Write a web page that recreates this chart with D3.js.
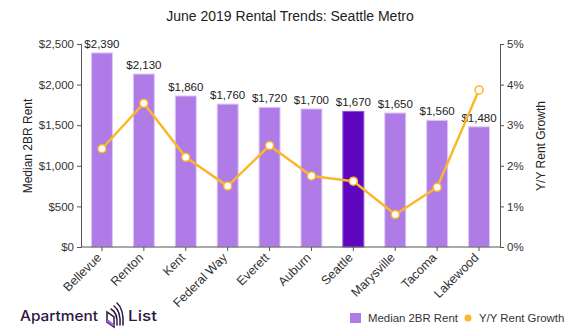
<!DOCTYPE html>
<html><head><meta charset="utf-8">
<script src="https://cdn.jsdelivr.net/npm/d3@7"></script>
<style>body{margin:0;background:#fff}svg{display:block;font-family:"Liberation Sans",Arial,sans-serif}</style>
</head><body><svg id="c" width="575" height="334"></svg>
<script>
const cities = ["Bellevue","Renton","Kent","Federal Way","Everett","Auburn","Seattle","Marysville","Tacoma","Lakewood"];
const rent = [2390,2130,1860,1760,1720,1700,1670,1650,1560,1480];
const growth = [2.42,3.54,2.21,1.50,2.50,1.75,1.62,0.80,1.47,3.87];
const rentTicks = [0,500,1000,1500,2000,2500];
const growthTicks = [0,1,2,3,4,5];
const highlight = "Seattle";

const svg = d3.select("#c");
const L = 81, R = 500, T = 44, B = 247;
const x = d3.scaleBand().domain(cities).range([L, R]).paddingInner(0.5).paddingOuter(0.25);
const y = d3.scaleLinear().domain([0, 2500]).range([B, T]);
const y2 = d3.scaleLinear().domain([0, 5]).range([B, T]);

svg.append("text").attr("x", 290).attr("y", 21).attr("text-anchor", "middle")
  .attr("font-size", 14).attr("fill", "#222").text("June 2019 Rental Trends: Seattle Metro");

// bars
svg.selectAll("rect.bar").data(cities).join("rect").attr("class", "bar")
  .attr("x", d => x(d)).attr("width", x.bandwidth())
  .attr("y", (d, i) => y(rent[i])).attr("height", (d, i) => B - y(rent[i]))
  .attr("fill", d => d === highlight ? "#5f06bf" : "#af7be6")
  .attr("stroke", d => d === highlight ? "#8d52d3" : "#dcc8f5").attr("stroke-width", 1);

// value labels
svg.selectAll("text.val").data(cities).join("text").attr("class", "val")
  .attr("x", d => x(d) + x.bandwidth() / 2).attr("y", (d, i) => y(rent[i]) - 5)
  .attr("text-anchor", "middle").attr("font-size", 11.5).attr("fill", "#222")
  .text((d, i) => d3.format("$,")(rent[i]));

// axes
const ax = svg.append("g").attr("transform", `translate(${L},0)`)
  .call(d3.axisLeft(y).tickValues(rentTicks).tickSize(4).tickPadding(3).tickFormat(d3.format("$,")));
const ax2 = svg.append("g").attr("transform", `translate(${R},0)`)
  .call(d3.axisRight(y2).tickValues(growthTicks).tickSize(4).tickPadding(3).tickFormat(d => d + "%"));
const axb = svg.append("g").attr("transform", `translate(0,${B})`)
  .call(d3.axisBottom(x).tickSize(4).tickSizeOuter(0));
[ax, ax2, axb].forEach(g => {
  g.selectAll("path,line").attr("stroke", "#555");
  g.selectAll("text").attr("fill", "#333").attr("font-size", 11.5).attr("font-family", "Liberation Sans, Arial, sans-serif");
});
axb.select(".domain").attr("d", `M${L},0H${R}`);
axb.selectAll("text").attr("text-anchor", "end").attr("dy", null).attr("y", 0).attr("font-size", 12.5)
  .attr("transform", "translate(-2,9) rotate(-45)").attr("dominant-baseline", "middle");

// axis titles
svg.append("text").attr("transform", "translate(32,146) rotate(-90)").attr("text-anchor", "middle")
  .attr("font-size", 12).attr("fill", "#222").text("Median 2BR Rent");
svg.append("text").attr("transform", "translate(545,146) rotate(-90)").attr("text-anchor", "middle")
  .attr("font-size", 12).attr("fill", "#222").text("Y/Y Rent Growth");

// line
const line = d3.line().x((d, i) => x(cities[i]) + x.bandwidth() / 2).y(d => y2(d));
svg.append("path").datum(growth).attr("d", line).attr("fill", "none")
  .attr("stroke", "#fbb62a").attr("stroke-width", 2.5).attr("stroke-linejoin", "round");
svg.selectAll("circle.pt").data(growth).join("circle").attr("class", "pt")
  .attr("cx", (d, i) => x(cities[i]) + x.bandwidth() / 2).attr("cy", d => y2(d)).attr("r", 4)
  .attr("fill", "#fff").attr("stroke", "#fbb62a").attr("stroke-width", 1.5);

// legend
const lg = svg.append("g");
lg.append("rect").attr("x", 350).attr("y", 313).attr("width", 11).attr("height", 10).attr("fill", "#af7be6");
lg.append("text").attr("x", 368).attr("y", 322).attr("font-size", 11.4).attr("fill", "#333").text("Median 2BR Rent");
lg.append("circle").attr("cx", 468).attr("cy", 318).attr("r", 3.5).attr("fill", "#fbb62a");
lg.append("text").attr("x", 479).attr("y", 322).attr("font-size", 11.4).attr("fill", "#333").text("Y/Y Rent Growth");

// logo
const logo = svg.append("g");
logo.append("text").attr("x", 20).attr("y", 321).attr("font-size", 14.5).attr("font-family", "Inter, Lato, sans-serif").attr("font-weight", 500)
  .attr("fill", "#2b1640").attr("textLength", 78).attr("lengthAdjust", "spacingAndGlyphs").text("Apartment");
logo.append("text").attr("x", 128).attr("y", 321).attr("font-size", 14.5).attr("font-family", "Inter, Lato, sans-serif").attr("font-weight", 500)
  .attr("fill", "#2b1640").attr("textLength", 29).attr("lengthAdjust", "spacingAndGlyphs").text("List");
const ic = logo.append("g").attr("fill", "none").attr("stroke-linecap", "round");
ic.append("path").attr("d", "M107,312 L107,322 L114,327 L114,317 Z").attr("stroke", "#2b1640").attr("stroke-width", 1.5);
ic.append("path").attr("d", "M108,321 L113,325").attr("stroke", "#9b5fe0").attr("stroke-width", 2.4);
ic.append("path").attr("d", "M111,309 Q118,313 117,325").attr("stroke", "#2b1640").attr("stroke-width", 1.5);
ic.append("path").attr("d", "M114,306 Q121,311 120,325").attr("stroke", "#2b1640").attr("stroke-width", 1.5);
ic.append("path").attr("d", "M117,303 Q124,309 123,325").attr("stroke", "#2b1640").attr("stroke-width", 1.5);
</script></body></html>
